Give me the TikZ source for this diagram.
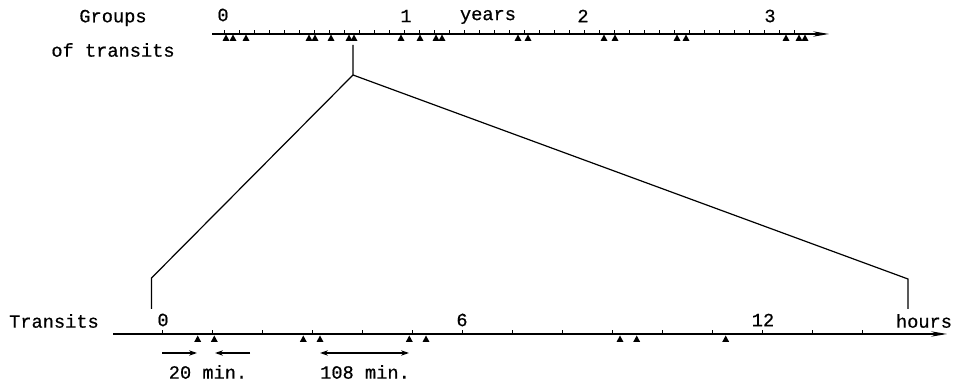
\documentclass[tikz,border=0pt]{standalone}
\usepackage{fontspec}
\setmonofont[FakeBold=0.6]{Liberation Mono}
\usetikzlibrary{arrows.meta}
\tikzset{
  lbl/.style={font=\ttfamily\fontsize{14}{16}\selectfont, inner sep=0pt, anchor=center},
  axisline/.style={line width=1pt, -{Stealth[length=12pt,width=4pt]}},
  conn/.style={line width=0.9pt},
  tickmark/.style={line width=0.7pt},
  marrow/.style={line width=0.9pt, -{Stealth[length=6pt,width=4pt]}},
}
\newcommand{\tri}[2]{\fill (#1-3.5,#2+6.5) -- (#1+3.5,#2+6.5) -- (#1,#2) -- cycle;}
\begin{document}
\begin{tikzpicture}[x=0.75pt,y=-0.75pt]
\useasboundingbox (0,0) rectangle (964,384);
% top axis
\coordinate (ta) at (212,34);
\coordinate (tb) at (829,34);
\draw[axisline] (ta) -- (tb);
\foreach \n in {0,...,38} {\draw[tickmark] (224+\n*15,34) -- (224+\n*15,30);}
\foreach \x in {226,233,246,309,315,331,349,354,401,420,436,442,518,528,604,615,677,686,786,799,805} {\tri{\x}{34.5}}
\node[lbl] (g1) at (113,18) {Groups};
\node[lbl] (g2) at (113,50) {of transits};
\node[lbl] (y0) at (223,15) {0};
\node[lbl] (y1) at (406,16) {1};
\node[lbl] (yr) at (488,17) {years};
\node[lbl] (y2) at (583,16) {2};
\node[lbl] (y3) at (770,16) {3};
% zoom connector
\coordinate (s) at (353,45);
\coordinate (p) at (353,75);
\coordinate (l) at (151.5,278);
\coordinate (r) at (908,279);
\coordinate (lb) at (151.5,309);
\coordinate (rb) at (908,309);
\draw[conn] (s) -- (p) -- (l) -- (lb);
\draw[conn] (p) -- (r) -- (rb);
% bottom axis
\coordinate (ba) at (113,334);
\coordinate (bb) at (947,334);
\draw[axisline] (ba) -- (bb);
\foreach \n in {0,...,14} {\draw[tickmark] (162+\n*50,334) -- (162+\n*50,330);}
\foreach \x in {197.7,214.3,303.3,320,409.3,426,620,636.7,725.7} {\tri{\x}{335.5}}
\node[lbl] (tr) at (54,321) {Transits};
\node[lbl] (h0) at (163,320) {0};
\node[lbl] (h6) at (462,320) {6};
\node[lbl] (h12) at (763,320) {12};
\node[lbl] (hr) at (924,321) {hours};
% interval arrows
\coordinate (a1) at (162,353);
\coordinate (a2) at (197,353);
\coordinate (a3) at (250,353);
\coordinate (a4) at (215,353);
\draw[marrow] (a1) -- (a2);
\draw[marrow] (a3) -- (a4);
\coordinate (b1) at (320,353);
\coordinate (b2) at (409,353);
\draw[marrow,{Stealth[length=6pt,width=4pt]}-{Stealth[length=6pt,width=4pt]}] (b1) -- (b2);
\node[lbl] (m20) at (208,372) {20 min.};
\node[lbl] (m108) at (365,372) {108 min.};
\end{tikzpicture}
\end{document}
